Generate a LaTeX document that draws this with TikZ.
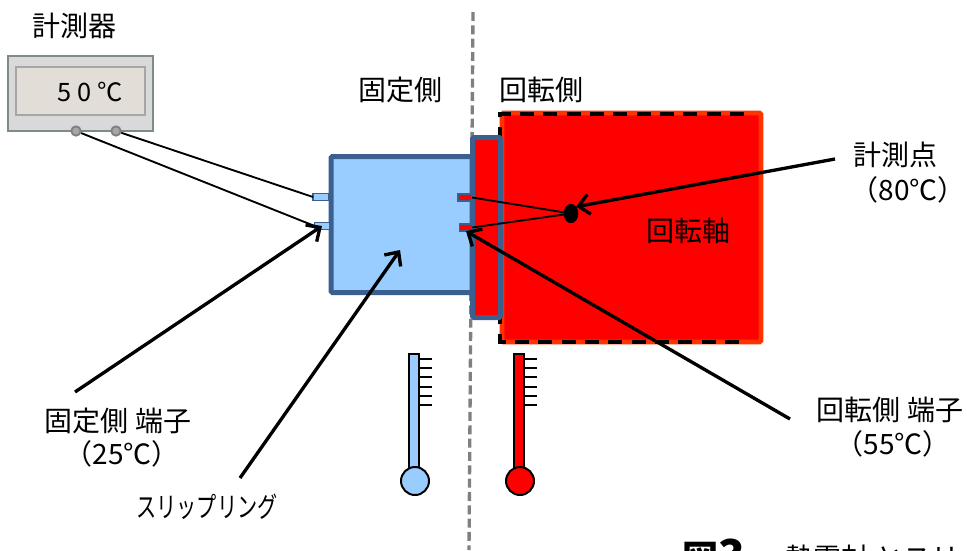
\documentclass[tikz,border=0pt]{standalone}
\usepackage{fontspec}
\setmainfont{Noto Sans CJK JP}
\usetikzlibrary{arrows.meta}
\usetikzlibrary{positioning}
\usetikzlibrary{shapes.geometric}
\definecolor{ringblue}{HTML}{3B5F8F}
\definecolor{coldblue}{HTML}{99CCFF}
\definecolor{meteredge}{HTML}{7F8C85}
\definecolor{metergray}{HTML}{D9D9D9}
\definecolor{displaygray}{HTML}{E2DDD6}
\definecolor{shaftedge}{HTML}{FF3300}
\tikzset{
    box/.style={draw, inner sep=0pt, outer sep=0pt, rectangle},
    lab/.style={inner sep=0pt, font=\fontsize{21}{25}\selectfont},
    pin/.style={box, draw=ringblue, line width=1.2pt, minimum height=5.5pt},
    terminal/.style={draw=black!50, fill=black!35, circle, line width=1.4pt, inner sep=0pt, minimum size=7pt},
    wire/.style={line width=1.4pt},
    pointer/.style={line width=2.5pt, -{Straight Barb[length=8pt,width=15pt]}},
    tick/.style={line width=1.2pt},
    tube/.style={box, draw=black, line width=1.5pt, minimum width=6.8pt, minimum height=88pt},
    bulb/.style={draw=black, circle, line width=1.5pt, inner sep=0pt, minimum size=21pt}
}

\begin{document}
\begin{tikzpicture}[x=0.75pt, y=-0.75pt]
        \useasboundingbox (0,0) rectangle (967,550);

        \coordinate (SplitTop) at (473,12);
        \coordinate (SplitBottom) at (469,550);
        \draw [gray, line width=2.5pt, dash pattern=on 6.75pt off 3.25pt] (SplitTop)--(SplitBottom);

        % meter
        \node [box, draw=meteredge, fill=metergray, line width=1.4pt, minimum width=108.75pt, minimum height=56.25pt] (Meter) at (80.5,93.5) {};
        \node [box, draw=black!35, fill=displaygray, line width=1.6pt, minimum width=96.75pt, minimum height=36pt] (Display) at (80.5,91) {};
        \node [lab, font=\fontsize{19}{23}\selectfont] (Reading) at (90,92) {5 0 ℃};
        \node [lab] (MeterLabel) at (74,26) {計測器};
        \node [terminal] (TermA) at (76,131) {};
        \node [terminal] (TermB) at (116,131) {};

        % rotating shaft
        \node [box, draw=shaftedge, fill=red, line width=3.5pt, rounded corners=1pt, minimum width=194.25pt, minimum height=171.75pt] (Shaft) at (631.5,227.5) {};
        \coordinate (DashTop) at (744,114);
        \coordinate (DashTopLeft) at (500,114);
        \coordinate (DashLeft) at (500,230);
        \coordinate (DashBottomLeft) at (500,342);
        \coordinate (DashBottom) at (739,342);
        \draw [line width=2.4pt, dash pattern=on 10.5pt off 7pt] (DashTop)--(DashTopLeft)--(DashLeft);
        \draw [line width=2.4pt, dash pattern=on 10.5pt off 7pt] (DashBottom)--(DashBottomLeft)--(DashLeft);

        % slip ring
        \node [box, draw=ringblue, fill=coldblue, line width=3.75pt, rounded corners=1pt, minimum width=105.75pt, minimum height=102pt] (Body) at (401.5,224.5) {};
        \node [box, draw=ringblue, fill=red, line width=3.75pt, rounded corners=1pt, minimum width=21pt, minimum height=135pt] (Ring) at (486.5,227.5) {};
        \node [pin, fill=coldblue, minimum width=12pt] (PinFixedA) at (321,197) {};
        \node [pin, fill=coldblue, minimum width=11pt] (PinFixedB) at (322,226) {};
        \node [pin, fill=red, minimum width=10.5pt] (PinRotA) at (465,197.5) {};
        \node [pin, fill=red, minimum width=9.5pt] (PinRotB) at (466,227.5) {};

        % measuring point
        \node [draw, fill=black, ellipse, inner sep=0pt, minimum width=10.5pt, minimum height=14pt] (Point) at (571,213.5) {};

        \draw [wire] (TermA)--(PinFixedB.west);
        \draw [wire] (TermB)--(PinFixedA.west);
        \draw [wire] (PinRotA.east)--(Point);
        \draw [wire] (PinRotB.east)--(Point);

        \node [lab] (ShaftLabel) at (688,231) {回転軸};
        \node [lab] (FixedSide) at (400,90) {固定側};
        \node [lab] (RotSide) at (541,90) {回転側};
        \node [lab] (PointLabel) at (895,155) {計測点};
        \node [lab] (PointTemp) at (908,190) {（80℃）};
        \node [lab] (FixedTerm) at (118,421) {固定側 端子};
        \node [lab] (FixedTemp) at (122,454) {（25℃）};
        \node [lab, xscale=0.72] (RingLabel) at (207,507) {スリップリング};
        \node [lab] (RotTerm) at (890,410) {回転側 端子};
        \node [lab] (RotTemp) at (893,444) {（55℃）};

        \coordinate (PointTail) at (835,159);
        \coordinate (FixedTail) at (75,392);
        \coordinate (RingTail) at (240,478);
        \coordinate (RingTip) at (400,250);
        \coordinate (RotTail) at (790,419);
        \draw [pointer] (PointTail)--(Point.north east);
        \draw [pointer] (FixedTail)--(PinFixedB.center);
        \draw [pointer] (RingTail)--(RingTip);
        \draw [pointer] (RotTail)--(PinRotB.south);

        % thermometers
        \node [tube, fill=coldblue] (TubeCold) at (414,412.5) {};
        \node [tube, fill=red] (TubeHot) at (519,412.5) {};
        \node [bulb, fill=coldblue] (BulbCold) at (415,481) {};
        \node [bulb, fill=red] (BulbHot) at (520,481) {};
        \foreach \i/\y in {0/359, 1/368, 2/377, 3/387, 4/396, 5/405} {
            \coordinate (ColdTick\i) at (432,\y);
            \coordinate (HotTick\i) at (537,\y);
            \draw [tick] (TubeCold.east |- ColdTick\i)--(ColdTick\i);
            \draw [tick] (TubeHot.east |- HotTick\i)--(HotTick\i);
        }

        % caption, cut by the lower edge
        \node [inner sep=0pt, anchor=base west, font=\fontsize{27}{30}\bfseries\selectfont] (FigNo) at (682,571) {図{\fontsize{33}{36}\selectfont 3}};
        \node [lab, anchor=base west] (FigText) at (785,568) {熱電対 とスリ};
    \end{tikzpicture}
\end{document}
